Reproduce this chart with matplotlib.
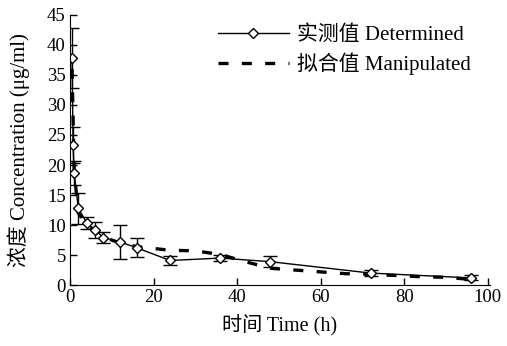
import numpy as np
import matplotlib.pyplot as plt
from matplotlib.lines import Line2D

plt.rcParams['font.family'] = ['Liberation Serif', 'Noto Sans CJK SC']

# measured data
t_meas = [0.5, 0.75, 1, 2, 4, 6, 8, 12, 16, 24, 36, 48, 72, 96]
c_meas = [37.8, 23.3, 18.7, 12.8, 10.4, 9.2, 7.9, 7.2, 6.2, 4.1, 4.5, 3.9, 2.0, 1.2]
c_err = [5.0, 3.0, 2.0, 2.6, 1.0, 1.3, 0.9, 2.8, 1.6, 0.7, 0.5, 0.9, 0.5, 0.4]

# fitted curve
t_fit = [0.5, 1, 2, 4, 6, 8, 12, 16, 20, 24, 30, 36, 42, 48, 54, 60, 66, 72, 78, 84, 90, 95]
c_fit = [36.0, 19.0, 12.0, 10.0, 9.0, 8.0, 7.0, 6.4, 6.1, 5.8, 5.7, 5.1, 3.9, 2.8, 2.5, 2.2, 1.9, 1.8, 1.6, 1.4, 1.3, 1.0]

fig = plt.figure(figsize=(5.07, 3.46), dpi=100)
ax = fig.add_axes([0.138, 0.176, 0.828, 0.781])

fit_style = dict(color='black', lw=2.4, ls=(0, (3, 4)))
meas_style = dict(color='black', lw=1.0, marker='D', markersize=5,
                  markerfacecolor='white', markeredgecolor='black', markeredgewidth=1.0)

ax.plot(t_fit, c_fit, **fit_style)
ax.errorbar(t_meas, c_meas, yerr=c_err, capsize=5, elinewidth=1.0, capthick=1.0,
            **meas_style)

ax.set_xlim(0, 100.5)
ax.set_ylim(0, 45)
ax.set_xticks(np.arange(0, 101, 20))
ax.set_yticks(np.arange(0, 46, 5))
ax.spines['top'].set_visible(False)
ax.spines['right'].set_visible(False)
ax.tick_params(direction='in', length=5, labelsize=13.5, width=1, pad=3)
ax.set_xlabel('时间 Time (h)', fontsize=14.5, labelpad=6)
ax.set_ylabel('浓度 Concentration (μg/ml)', fontsize=15, labelpad=12)

h0 = Line2D([0, 0.5, 1], [0, 0, 0], markevery=[1], **meas_style)
h1 = Line2D([], [], **fit_style)
ax.legend([h0, h1], ['实测值 Determined', '拟合值 Manipulated'],
          loc='upper right', frameon=False, fontsize=15, handlelength=3.4,
          handletextpad=0.4, labelspacing=0.35, bbox_to_anchor=(1.0, 1.03))

fig.savefig('out.png', dpi=100)
